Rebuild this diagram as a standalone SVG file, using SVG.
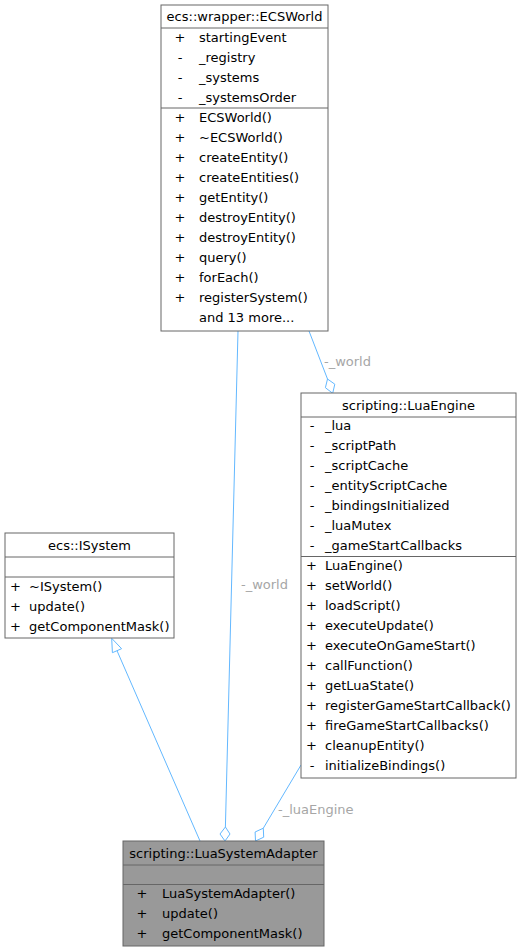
<svg xmlns="http://www.w3.org/2000/svg" width="521" height="952" viewBox="0 0 521 952">
<style>
text{font-family:"DejaVu Sans",sans-serif;font-size:13px;fill:#000}
.box{fill:#fff;stroke:#666;stroke-width:1}
.sel{fill:#999;stroke:#666;stroke-width:1}
.sep{stroke:#666;stroke-width:1}
.t{text-anchor:middle}
.v{text-anchor:middle}
.e{fill:none;stroke:#63b8ff;stroke-width:1}
.h{fill:#fff;stroke:#63b8ff;stroke-width:1}
.lbl{fill:#a6a6a6}
</style>
<g id="edges">
<path class="e" d="M200,841 L117,650.7"/>
<polygon class="h" points="111.7,638.3 121.6,648.7 112.4,652.7"/>
<path class="e" d="M238,331 L225.4,827"/>
<polygon class="h" points="225,841 230,834 225.4,827 220,834"/>
<text class="lbl" x="241" y="589">-_world</text>
<path class="e" d="M309,331 L327.5,379"/>
<polygon class="h" points="332.7,393.3 334.8,384.2 327.5,379 325.4,387.7"/>
<text class="lbl" x="324" y="366">-_world</text>
<path class="e" d="M301,765 L263.3,828.2"/>
<polygon class="h" points="255.5,841 263.7,837.2 263.3,828.2 255.1,832"/>
<text class="lbl" x="278" y="814">-_luaEngine</text>
</g>
<g id="ECSWorld">
<rect class="box" x="161" y="5" width="167" height="326"/>
<line class="sep" x1="161" y1="28" x2="328" y2="28"/>
<line class="sep" x1="161" y1="108" x2="328" y2="108"/>
<text class="t" x="244.5" y="21">ecs::wrapper::ECSWorld</text>
<text class="v" x="180" y="41.5">+</text><text x="199" y="41.5">startingEvent</text>
<text class="v" x="180" y="61.5">-</text><text x="199" y="61.5">_registry</text>
<text class="v" x="180" y="81.5">-</text><text x="199" y="81.5">_systems</text>
<text class="v" x="180" y="101.5">-</text><text x="199" y="101.5">_systemsOrder</text>
<text class="v" x="180" y="121.5">+</text><text x="199" y="121.5">ECSWorld()</text>
<text class="v" x="180" y="141.5">+</text><text x="199" y="141.5">~ECSWorld()</text>
<text class="v" x="180" y="161.5">+</text><text x="199" y="161.5">createEntity()</text>
<text class="v" x="180" y="181.5">+</text><text x="199" y="181.5">createEntities()</text>
<text class="v" x="180" y="201.5">+</text><text x="199" y="201.5">getEntity()</text>
<text class="v" x="180" y="221.5">+</text><text x="199" y="221.5">destroyEntity()</text>
<text class="v" x="180" y="241.5">+</text><text x="199" y="241.5">destroyEntity()</text>
<text class="v" x="180" y="261.5">+</text><text x="199" y="261.5">query()</text>
<text class="v" x="180" y="281.5">+</text><text x="199" y="281.5">forEach()</text>
<text class="v" x="180" y="301.5">+</text><text x="199" y="301.5">registerSystem()</text>
<text x="199" y="321.5">and 13 more...</text>
</g>
<g id="LuaEngine">
<rect class="box" x="301" y="393" width="215" height="385"/>
<line class="sep" x1="301" y1="417" x2="516" y2="417"/>
<line class="sep" x1="301" y1="556.5" x2="516" y2="556.5"/>
<text class="t" x="408.5" y="410">scripting::LuaEngine</text>
<text class="v" x="312" y="430">-</text><text x="325" y="430">_lua</text>
<text class="v" x="312" y="450">-</text><text x="325" y="450">_scriptPath</text>
<text class="v" x="312" y="470">-</text><text x="325" y="470">_scriptCache</text>
<text class="v" x="312" y="490">-</text><text x="325" y="490">_entityScriptCache</text>
<text class="v" x="312" y="510">-</text><text x="325" y="510">_bindingsInitialized</text>
<text class="v" x="312" y="530">-</text><text x="325" y="530">_luaMutex</text>
<text class="v" x="312" y="550">-</text><text x="325" y="550">_gameStartCallbacks</text>
<text class="v" x="311.5" y="570">+</text><text x="325" y="570">LuaEngine()</text>
<text class="v" x="311.5" y="590">+</text><text x="325" y="590">setWorld()</text>
<text class="v" x="311.5" y="610">+</text><text x="325" y="610">loadScript()</text>
<text class="v" x="311.5" y="630">+</text><text x="325" y="630">executeUpdate()</text>
<text class="v" x="311.5" y="650">+</text><text x="325" y="650">executeOnGameStart()</text>
<text class="v" x="311.5" y="670">+</text><text x="325" y="670">callFunction()</text>
<text class="v" x="311.5" y="690">+</text><text x="325" y="690">getLuaState()</text>
<text class="v" x="311.5" y="710">+</text><text x="325" y="710">registerGameStartCallback()</text>
<text class="v" x="311.5" y="730">+</text><text x="325" y="730">fireGameStartCallbacks()</text>
<text class="v" x="311.5" y="750">+</text><text x="325" y="750">cleanupEntity()</text>
<text class="v" x="312" y="770">-</text><text x="325" y="770">initializeBindings()</text>
</g>
<g id="ISystem">
<rect class="box" x="5" y="533" width="169" height="105"/>
<line class="sep" x1="5" y1="557" x2="174" y2="557"/>
<line class="sep" x1="5" y1="577" x2="174" y2="577"/>
<text class="t" x="89.5" y="550">ecs::ISystem</text>
<text class="v" x="15.5" y="590.5">+</text><text x="29" y="590.5">~ISystem()</text>
<text class="v" x="15.5" y="610.5">+</text><text x="29" y="610.5">update()</text>
<text class="v" x="15.5" y="630.5">+</text><text x="29" y="630.5">getComponentMask()</text>
</g>
<g id="LuaSystemAdapter">
<rect class="sel" x="123" y="841" width="201" height="105"/>
<line class="sep" x1="123" y1="865" x2="324" y2="865"/>
<line class="sep" x1="123" y1="884.5" x2="324" y2="884.5"/>
<text class="t" x="223.5" y="857.5">scripting::LuaSystemAdapter</text>
<text class="v" x="142" y="897.5">+</text><text x="162" y="897.5">LuaSystemAdapter()</text>
<text class="v" x="142" y="917.5">+</text><text x="162" y="917.5">update()</text>
<text class="v" x="142" y="937.5">+</text><text x="162" y="937.5">getComponentMask()</text>
</g>
</svg>
